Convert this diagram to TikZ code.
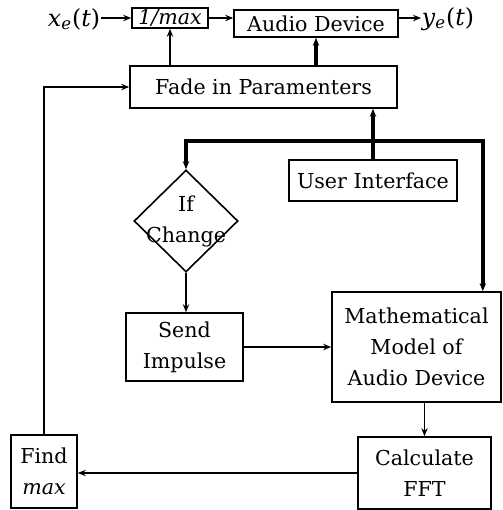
\documentclass[tikz,border=0pt]{standalone}
\usepackage{fontspec}
\setmainfont{DejaVu Serif}
\usetikzlibrary{arrows.meta, shapes.geometric}

\begin{document}
\begin{tikzpicture}[x=0.5pt, y=-0.5pt, line width=0.8pt, >={Stealth[length=4pt,width=3.2pt]},
  every node/.style={font=\fontsize{10.3}{15.5}\selectfont, inner sep=0pt},
  block/.style={draw, align=center},
  sig/.style={font=\fontsize{11.8}{14}\selectfont},
  bus/.style={line width=1.8pt}]
\useasboundingbox (0,0) rectangle (503,510);
% signal path
\node[sig] (xe) at (74,19) {\textit{x}\textsubscript{\textit{e}}(\textit{t})};
\node[block, minimum width=38pt, minimum height=10pt] (inv) at (170,18) {\textit{1/max}};
\node[block, minimum width=82pt, minimum height=13.5pt] (dev) at (316,23.5) {Audio Device};
\node[sig] (ye) at (448,19) {\textit{y}\textsubscript{\textit{e}}(\textit{t})};
\node[block, minimum width=133.5pt, minimum height=21pt] (fade) at (263.5,87) {Fade in Paramenters};
\node[block, minimum width=84pt, minimum height=20.5pt] (ui) at (373,180.5) {User Interface};
% decision
\node[draw, diamond, minimum width=52pt, minimum height=51pt] (chg) at (186,221) {};
\node[align=center] (chgtext) at (chg) {If\\Change};
\node[block, minimum width=58.5pt, minimum height=34pt] (send) at (184.5,347) {Send\\Impulse};
\node[block, minimum width=84.5pt, minimum height=55pt] (model) at (416.5,347) {Mathematical\\Model of\\Audio Device};
\node[block, minimum width=66.5pt, minimum height=36pt] (fft) at (424.5,473) {Calculate\\FFT};
\node[block, minimum width=33pt, minimum height=36.5pt] (find) at (44,471.5) {Find\\\textit{max}};
\coordinate (split) at (373,141);

\draw[->] (xe.east |- inv.west) -- (inv.west);
\draw[->] (inv.east) -- (inv.east -| dev.west);
\draw[->] (dev.east |- inv.east) -- (inv.east -| ye.west);
\draw[->] (fade.north -| inv.south) -- (inv.south);
\draw[->, bus] (fade.north -| dev.south) -- (dev.south);
\draw[->, bus] (ui.north) -- (ui.north |- fade.south);
\draw[->, bus] (split) -| (chg.north);
\draw[->, bus] (split) -| ([xshift=-9.5pt]model.north east);
\draw[->] (chg.south) -- (chg.south |- send.north);
\draw[->] (send.east) -- (send.east -| model.west);
\draw[->] (model.south -| fft.north) -- (fft.north);
\draw[->] (fft.west) -- (fft.west -| find.east);
\draw[->] (find.north) |- (fade.west);
\end{tikzpicture}
\end{document}
